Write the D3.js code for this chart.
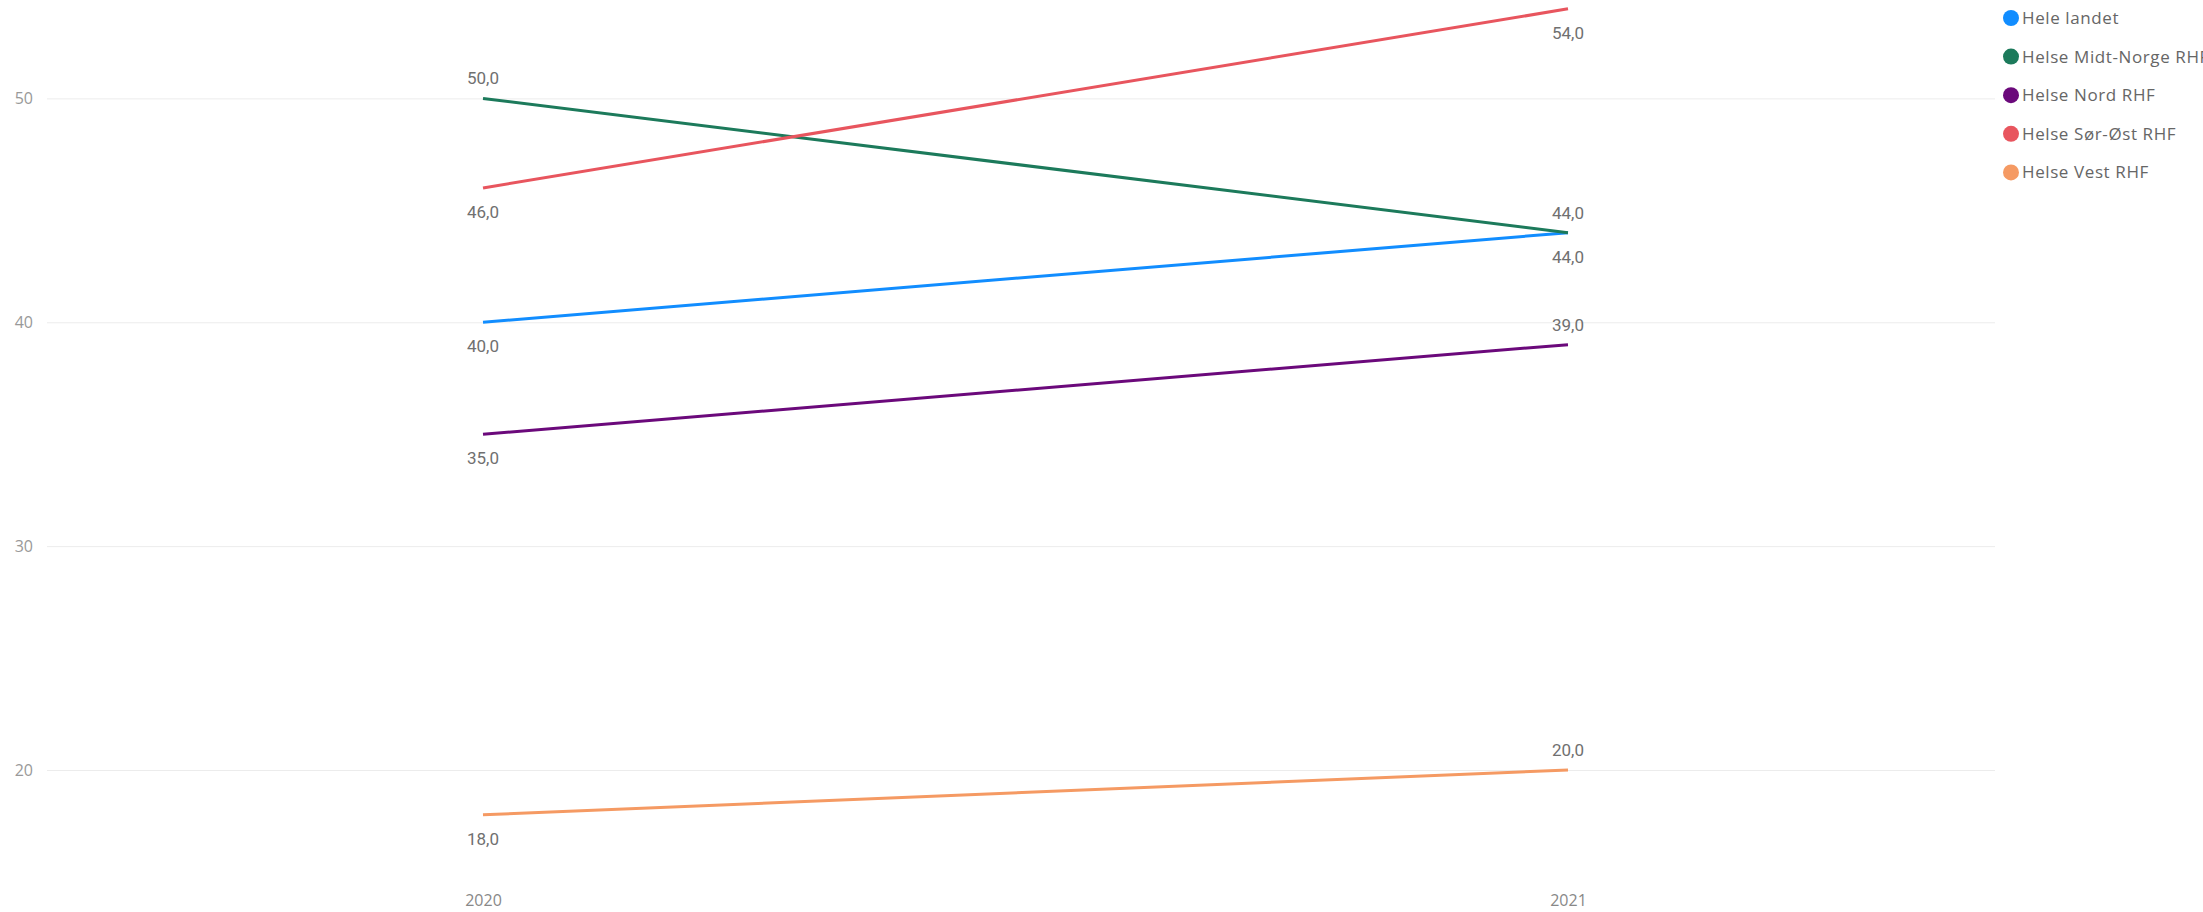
<!DOCTYPE html>
<html><head><meta charset="utf-8">
<script src="https://cdn.jsdelivr.net/npm/d3@7"></script>
<style>html,body{margin:0;padding:0;background:#fff;}svg{display:block;}</style>
</head><body>
<svg id="chart" width="2203" height="912"></svg>
<script>
const years = ["2020", "2021"];
const seriesNames = ["Hele landet", "Helse Midt-Norge RHF", "Helse Nord RHF", "Helse Sør-Øst RHF", "Helse Vest RHF"];
const heleLandet = [40, 44];
const midtNorge = [50, 44];
const nord = [35, 39];
const sorOst = [46, 54];
const vest = [18, 20];
const yTicks = [20, 30, 40, 50];
const colors = ["#118DFF", "#1C7A5B", "#6B097B", "#E8555E", "#F59A63"];
// label placement: -1 above, 1 below, per point
const labelPos = [[1, 1], [-1, -1], [1, -1], [1, 1], [1, -1]];

const series = [heleLandet, midtNorge, nord, sorOst, vest];
const svg = d3.select("#chart");

const x = d3.scalePoint().domain(years).range([483, 1568]);
const y = d3.scaleLinear().domain([20, 50]).range([770, 98.4]);

// gridlines
const gridG = svg.append("g")
  .call(d3.axisLeft(y).tickValues(yTicks).tickSize(-(1995 - 47)).tickFormat(d3.format("d")).tickPadding(14));
gridG.attr("transform", "translate(47,0)");
gridG.select(".domain").remove();
gridG.selectAll(".tick line").attr("stroke", "#ececec").attr("stroke-width", 1);
gridG.selectAll(".tick text").attr("fill", "#999").attr("font-family", "'Open Sans', sans-serif").attr("font-size", 16);

// x axis
const xG = svg.append("g").attr("transform", "translate(0,901)")
  .call(d3.axisBottom(x).tickSize(0).tickPadding(0));
xG.select(".domain").remove();
xG.selectAll(".tick text").attr("fill", "#888").attr("font-family", "'Open Sans', sans-serif").attr("font-size", 16).attr("dy", "0.32em");

const line = d3.line().x((d, i) => x(years[i])).y(d => y(d));

series.forEach((vals, si) => {
  svg.append("path").datum(vals).attr("d", line)
    .attr("fill", "none").attr("stroke", colors[si]).attr("stroke-width", 3);
});

series.forEach((vals, si) => {
  vals.forEach((v, i) => {
    const above = labelPos[si][i] < 0;
    svg.append("text")
      .attr("x", x(years[i]))
      .attr("y", y(v) + (above ? -20 : 24))
      .attr("dy", "0.35em")
      .attr("text-anchor", "middle")
      .attr("font-family", "Roboto, sans-serif")
      .attr("font-size", 17)
      .attr("fill", "#707070")
      .text(d3.format(".1f")(v).replace(".", ","));
  });
});

// legend
const leg = svg.append("g");
seriesNames.forEach((n, i) => {
  const cy = 18 + i * 38.6;
  leg.append("circle").attr("cx", 2011).attr("cy", cy).attr("r", 8).attr("fill", colors[i]);
  leg.append("text").attr("x", 2022).attr("y", cy).attr("dy", "0.35em")
    .attr("font-family", "'Open Sans', sans-serif").attr("font-size", 17)
    .attr("letter-spacing", 0.6).attr("fill", "#666").text(n);
});
</script>
</body></html>
